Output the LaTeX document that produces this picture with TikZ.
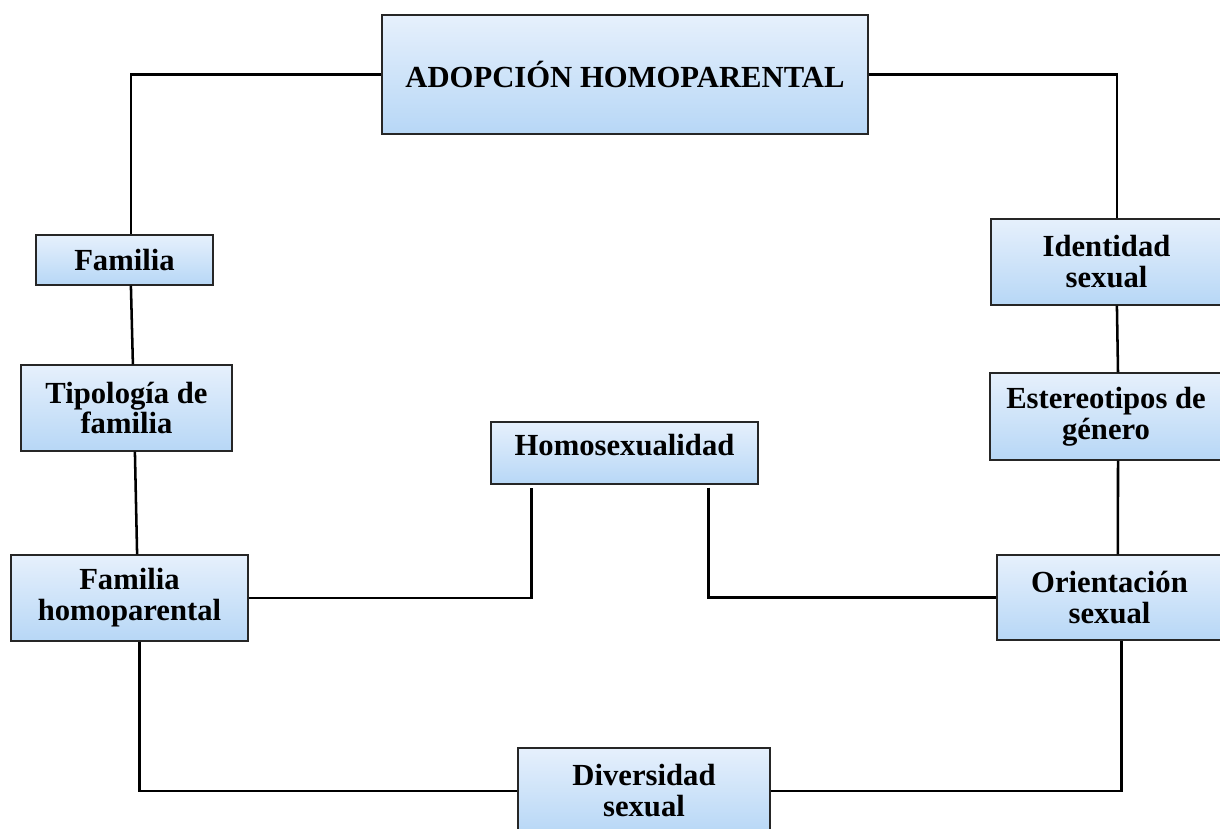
\documentclass[tikz,border=0pt]{standalone}
\usepackage{fontspec}
\setmainfont{Liberation Serif}
\definecolor{boxtop}{RGB}{230,240,252}
\definecolor{boxbot}{RGB}{183,215,246}
\tikzset{
    box/.style={draw=black!85, line width=0.9pt, top color=boxtop, bottom color=boxbot,
        align=center, inner sep=2pt, font=\bfseries\fontsize{21.8}{22}\selectfont},
    link/.style={line width=1.8pt, black}
}
\begin{document}
\begin{tikzpicture}[x=0.025cm, y=-0.025cm]
            \useasboundingbox (0,0) rectangle (1220,828);
            % Boxes
            \node[box, minimum width=12.15cm, minimum height=2.975cm] (main) at (625,74.5) {ADOPCIÓN HOMOPARENTAL};
            \node[box, minimum width=4.425cm, minimum height=1.25cm] (fam) at (124.5,260) {Familia};
            \node[box, minimum width=5.275cm, minimum height=2.15cm] (tipo) at (126.5,408) {Tipología de\\familia};
            \node[box, minimum width=5.925cm, minimum height=2.15cm] (fhomo) at (129.5,598) {Familia\\homoparental};
            \node[box, minimum width=6.675cm, minimum height=1.55cm, text depth=0.4cm] (homo) at (624.5,453) {Homosexualidad};
            \node[box, minimum width=5.775cm, minimum height=2.15cm] (ident) at (1106.5,262) {Identidad\\sexual};
            \node[box, minimum width=5.8cm, minimum height=2.175cm] (estereo) at (1106,416.5) {Estereotipos de\\género};
            \node[box, minimum width=5.625cm, minimum height=2.125cm] (orient) at (1109.5,597.5) {Orientación\\sexual};
            \node[box, minimum width=6.3cm, minimum height=2.15cm] (divers) at (644,791) {Diversidad\\sexual};
            % Connectors
            \draw[link] (main.west) -| ([xshift=0.1625cm]fam.north);
            \draw[link] (main.east) -| ([xshift=0.26cm]ident.north);
            \foreach \a/\sa/\b/\sb in {fam/0.16/tipo/0.16, tipo/0.21/fhomo/0.19, ident/0.26/estereo/0.3, estereo/0.3/orient/0.21} {
                \draw[link] ([xshift=\sa cm]\a.south) -- ([xshift=\sb cm]\b.north);
            }
            \draw[link] (fhomo.east) -| ([xshift=-2.325cm, yshift=-0.075cm]homo.south);
            \draw[link] ([xshift=2.1cm, yshift=-0.075cm]homo.south) |- (orient.west);
            \draw[link] ([xshift=0.25cm]fhomo.south) |- (divers.west);
            \draw[link] ([xshift=0.3cm]orient.south) |- (divers.east);
\end{tikzpicture}
\end{document}
